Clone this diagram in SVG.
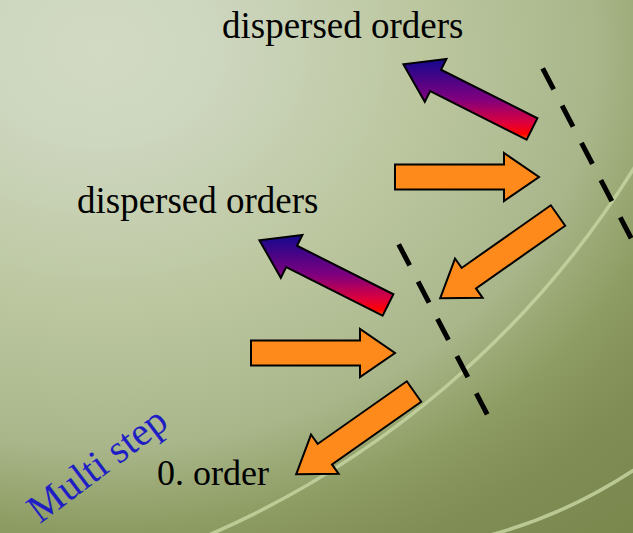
<svg xmlns="http://www.w3.org/2000/svg" xmlns:xlink="http://www.w3.org/1999/xlink" width="633" height="533" viewBox="0 0 633 533">
  <style>
    .label { fill: #000; }
    .blue { fill: #1e1ec4; }
    .orange { fill: #ff8a1c; stroke: #000; stroke-width: 2; stroke-linejoin: miter; }
    .purple { fill: url(#purpleGrad); stroke: #000; stroke-width: 2; stroke-linejoin: miter; }
    .dash { stroke: #000; stroke-width: 5; stroke-dasharray: 23.7 18.3; fill: none; stroke-linecap: butt; }
    .arc { fill: none; stroke: #c4d3a0; stroke-width: 3.5; opacity: 0.85; }
  </style>
  <defs>
    <radialGradient id="bg" gradientUnits="userSpaceOnUse" cx="100" cy="50" r="640" gradientTransform="translate(100 50) scale(1.25 1) translate(-100 -50)">
      <stop offset="0" stop-color="#d2dac4"/>
      <stop offset="0.15" stop-color="#cdd6be"/>
      <stop offset="0.4" stop-color="#bcc7a0"/>
      <stop offset="0.62" stop-color="#a9b68a"/>
      <stop offset="0.75" stop-color="#8d9c62"/>
      <stop offset="0.86" stop-color="#808d55"/>
      <stop offset="1" stop-color="#7a884e"/>
    </radialGradient>
    <linearGradient id="purpleGrad" x1="0" y1="0" x2="0" y2="1">
      <stop offset="0" stop-color="#14088e"/>
      <stop offset="0.5" stop-color="#80007e"/>
      <stop offset="0.8" stop-color="#e0003a"/>
      <stop offset="0.93" stop-color="#ff0000"/>
      <stop offset="1" stop-color="#ff6a00"/>
    </linearGradient>
    <polygon id="arrowShape" points="0,-12.5 109,-12.5 109,-24 144,0 109,24 109,12.5 0,12.5"/>
  </defs>

  <rect x="0" y="0" width="633" height="533" fill="url(#bg)"/>
  <path class="arc" d="M 185 545 A 948 948 0 0 0 640 158.5"/>
  <path class="arc" d="M 470 540 Q 560 520 640 466"/>

  <g id="connectors">
    <line id="interface-1" class="dash" x1="542.7" y1="68.3" x2="631.2" y2="238.3"/>
    <line id="interface-2" class="dash" x1="398.7" y1="244.3" x2="487.2" y2="414.3"/>
  </g>

  <g id="dispersed-arrow-1">
    <polygon class="purple" points="526.6,139.7 430.2,91.1 424.8,101.8 403.4,64.2 446.4,59.0 441.0,69.7 537.4,118.3"/>
  </g>
  <g id="incident-arrow-1">
    <use xlink:href="#arrowShape" href="#arrowShape" class="orange" transform="translate(395 177)"/>
  </g>
  <g id="zero-order-arrow-1">
    <use xlink:href="#arrowShape" href="#arrowShape" class="orange" transform="translate(558 215.5) rotate(144.9)"/>
  </g>

  <g id="dispersed-arrow-2">
    <polygon class="purple" points="382.6,315.7 286.2,267.1 280.8,277.8 259.4,240.2 302.4,235.0 297.0,245.7 393.4,294.3"/>
  </g>
  <g id="incident-arrow-2">
    <use xlink:href="#arrowShape" href="#arrowShape" class="orange" transform="translate(251 353)"/>
  </g>
  <g id="zero-order-arrow-2">
    <use xlink:href="#arrowShape" href="#arrowShape" class="orange" transform="translate(414 391.5) rotate(144.9)"/>
  </g>

  <g id="label-dispersed-1">
    <text class="label" font-family="'Liberation Serif', 'Times New Roman', 'DejaVu Serif', serif" x="222" y="37.5" font-size="37">dispersed orders</text>
  </g>
  <g id="label-dispersed-2">
    <text class="label" font-family="'Liberation Serif', 'Times New Roman', 'DejaVu Serif', serif" x="77" y="213" font-size="37">dispersed orders</text>
  </g>
  <g id="label-zero-order">
    <text class="label" font-family="'Liberation Serif', 'Times New Roman', 'DejaVu Serif', serif" x="157" y="485" font-size="36">0. order</text>
  </g>
  <g id="label-multi-step">
    <text class="blue" font-family="'Liberation Serif', 'Times New Roman', 'DejaVu Serif', serif" x="0" y="0" font-size="40" text-anchor="middle" transform="translate(105 475) rotate(-37)">Multi step</text>
  </g>
</svg>
